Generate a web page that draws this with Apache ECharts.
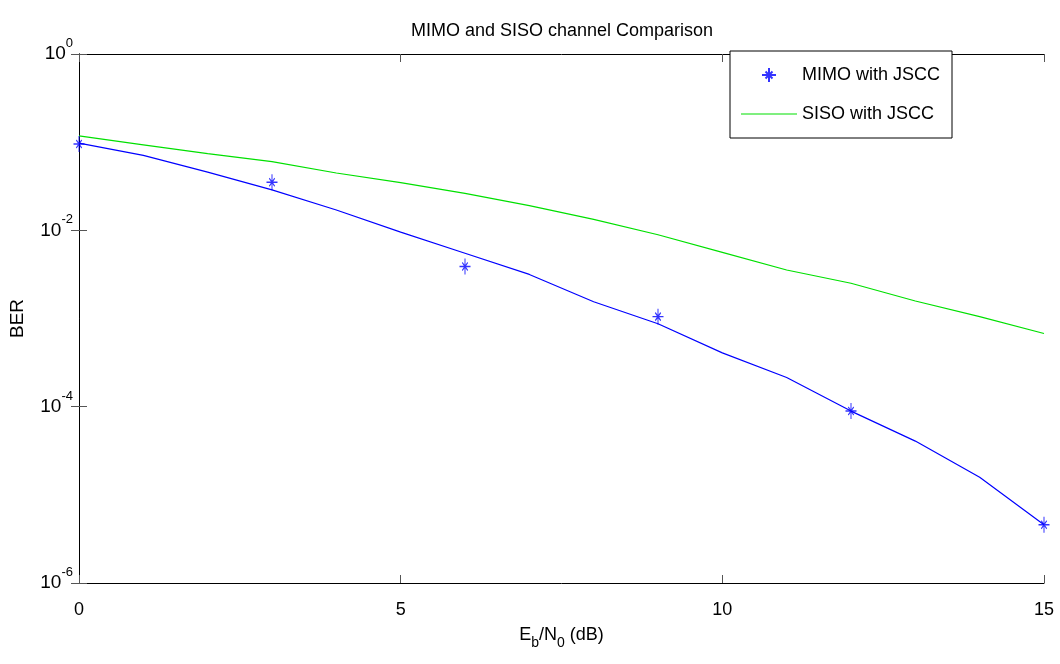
<!DOCTYPE html>
<html><head><meta charset="utf-8">
<script src="https://cdn.jsdelivr.net/npm/echarts@6/dist/echarts.min.js"></script>
<style>html,body{margin:0;padding:0;background:#fff}#c{width:1060px;height:664px}</style>
</head><body><div id="c"></div>
<script>
// Eb/N0 (dB)
const ebno = [0,1,2,3,4,5,6,7,8,9,10,11,12,13,14,15];
// MIMO with JSCC - simulated curve (blue line)
const mimoCurve = [0.0977,0.0708,0.0457,0.0288,0.0170,0.00955,0.00550,0.00316,0.00155,0.000871,0.000407,0.000214,0.0000891,0.0000407,0.0000158,0.00000457];
// SISO with JSCC (green line)
const sisoCurve = [0.118,0.0933,0.0741,0.0603,0.0447,0.0347,0.0263,0.0191,0.0133,0.00891,0.00562,0.00355,0.00251,0.00158,0.00105,0.000676];
// MIMO with JSCC - markers
const markerX = [0,3,6,9,12,15];
const markerBER = [0.0955,0.0351,0.00389,0.00105,0.0000891,0.00000457];

const FONT = "'Liberation Sans',Arial,sans-serif";
const star = 'path://M0,-10L0,10M-10,0L10,0M-5,-5L5,5M-5,5L5,-5';
const lineIcon = 'path://M0,0L100,0L100,2L0,2Z';

const chart = echarts.init(document.getElementById('c'), null, {renderer:'canvas'});
const axisLineStyle = {color:'#000', width:1};
const tickStyle = {color:'#555', width:1};
chart.setOption({
  backgroundColor:'#fff',
  animation:false,
  title:{text:'MIMO and SISO channel Comparison', left:406, top:17,
    textStyle:{fontFamily:FONT, fontSize:18, fontWeight:'normal', color:'#000'}},
  grid:{left:77, right:16, top:54, bottom:81, containLabel:false},
  legend:{
    orient:'vertical', left:730, top:51,
    padding:[13,12,13,11], itemWidth:56, itemHeight:14, itemGap:17,
    backgroundColor:'#fff', borderColor:'#000', borderWidth:1,
    textStyle:{fontFamily:FONT, fontSize:18, color:'#000', lineHeight:22},
    data:[{name:'MIMO with JSCC'},{name:'SISO with JSCC', icon:lineIcon, itemStyle:{color:'#00e000'}}]
  },
  xAxis:[{
    type:'value', min:0, max:15, interval:5, position:'bottom',
    axisLine:{lineStyle:axisLineStyle}, axisTick:{inside:true, length:8, lineStyle:tickStyle},
    splitLine:{show:false},
    axisLabel:{fontFamily:FONT, fontSize:18, color:'#000', margin:18},
    name:'{m|E}{s|b}{m|/N}{s|0}{m| (dB)}', nameLocation:'middle', nameGap:37,
    nameTextStyle:{rich:{
      m:{fontFamily:FONT, fontSize:18, color:'#000', lineHeight:30},
      s:{fontFamily:FONT, fontSize:14, color:'#000', verticalAlign:'bottom', lineHeight:14}
    }}
  },{
    type:'value', min:0, max:15, interval:5, position:'top',
    axisLine:{lineStyle:axisLineStyle}, axisTick:{inside:true, length:8, lineStyle:tickStyle},
    splitLine:{show:false}, axisLabel:{show:false}
  }],
  yAxis:[{
    type:'log', logBase:10, min:1e-6, max:1, interval:2, position:'left',
    axisLine:{show:true, lineStyle:axisLineStyle}, axisTick:{show:true, inside:true, length:8, lineStyle:tickStyle},
    minorTick:{show:false}, splitLine:{show:false},
    axisLabel:{margin:6, formatter:function(v){
      const e = Math.round(Math.log10(v));
      return '{b|10}{s|' + e + '}';
    }, rich:{
      b:{fontFamily:FONT, fontSize:19, color:'#000', lineHeight:34},
      s:{fontFamily:FONT, fontSize:13, color:'#000', verticalAlign:'top', lineHeight:13}
    }},
    name:'BER', nameLocation:'middle', nameGap:52, nameRotate:90,
    nameTextStyle:{fontFamily:FONT, fontSize:19, color:'#000'}
  },{
    type:'log', logBase:10, min:1e-6, max:1, interval:2, position:'right',
    axisLine:{show:true, lineStyle:axisLineStyle}, axisTick:{show:true, inside:true, length:8, lineStyle:tickStyle},
    minorTick:{show:false}, splitLine:{show:false}, axisLabel:{show:false}
  }],
  series:[
    {name:'MIMO with JSCC', type:'scatter', xAxisIndex:0, yAxisIndex:0,
     symbol:star, symbolSize:[11,16], symbolKeepAspect:false,
     itemStyle:{color:'transparent', borderColor:'#0000ff', borderWidth:1.2},
     data: markerX.map((x,i)=>[x, markerBER[i]]), z:5},
    {name:'SISO with JSCC', type:'line', xAxisIndex:0, yAxisIndex:0,
     showSymbol:false, symbol:'none', lineStyle:{color:'#00e000', width:1.2}, itemStyle:{color:'#00e000'},
     data: ebno.map((x,i)=>[x, sisoCurve[i]])},
    {name:'MIMO curve', type:'line', xAxisIndex:0, yAxisIndex:0,
     showSymbol:false, symbol:'none', lineStyle:{color:'#0000ff', width:1.2}, itemStyle:{color:'#0000ff'},
     data: ebno.map((x,i)=>[x, mimoCurve[i]])}
  ]
});
</script></body></html>
